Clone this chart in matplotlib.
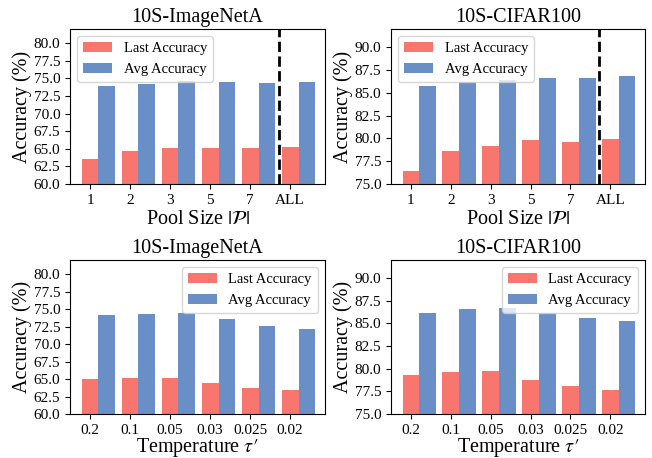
import matplotlib
matplotlib.use("Agg")
import matplotlib.pyplot as plt
import numpy as np
from matplotlib.ticker import MultipleLocator, FormatStrFormatter

plt.rcParams['font.family'] = ['Liberation Serif', 'DejaVu Serif']
plt.rcParams['mathtext.fontset'] = 'stix'

pool_labels = ['1', '2', '3', '5', '7', 'ALL']
temp_labels = ['0.2', '0.1', '0.05', '0.03', '0.025', '0.02']

inA_pool_last = [63.5, 64.7, 65.1, 65.1, 65.1, 65.3]
inA_pool_avg = [73.9, 74.2, 74.6, 74.5, 74.4, 74.5]
cif_pool_last = [76.4, 78.6, 79.2, 79.8, 79.6, 79.9]
cif_pool_avg = [85.8, 86.2, 86.4, 86.6, 86.6, 86.8]

inA_temp_last = [65.0, 65.2, 65.2, 64.45, 63.75, 63.45]
inA_temp_avg = [74.1, 74.3, 74.4, 73.55, 72.55, 72.1]
cif_temp_last = [79.3, 79.6, 79.8, 78.8, 78.05, 77.6]
cif_temp_avg = [86.2, 86.6, 86.7, 86.1, 85.6, 85.25]

RED = '#F8766D'
BLUE = '#6A8FC7'
W = 0.42

fig = plt.figure(figsize=(6.52, 4.58), dpi=100)
W_, H_ = 652, 458
def pos(x0, x1, y0, y1):
    return [x0 / W_, 1 - y1 / H_, (x1 - x0) / W_, (y1 - y0) / H_]

axes_spec = [
    (pos(70, 325, 29, 184), '10S-ImageNetA', pool_labels, inA_pool_last, inA_pool_avg, (60, 82), r'Pool Size $|\mathcal{P}|$', 'upper left', True, -0.168),
    (pos(391, 645, 29, 184), '10S-CIFAR100', pool_labels, cif_pool_last, cif_pool_avg, (75, 92), r'Pool Size $|\mathcal{P}|$', 'upper left', True, -0.168),
    (pos(70, 325, 260, 414), '10S-ImageNetA', temp_labels, inA_temp_last, inA_temp_avg, (60, 82), r"Temperature $\tau\prime$", 'upper right', False, -0.143),
    (pos(391, 645, 260, 414), '10S-CIFAR100', temp_labels, cif_temp_last, cif_temp_avg, (75, 92), r"Temperature $\tau\prime$", 'upper right', False, -0.143),
]

for rect, title, labels, last, avg, ylim, xlabel, loc, dashed, ly in axes_spec:
    ax = fig.add_axes(rect)
    x = np.arange(len(labels))
    ax.bar(x, last, width=W, color=RED, label='Last Accuracy')
    ax.bar(x + W, avg, width=W, color=BLUE, label='Avg Accuracy')
    if dashed:
        ax.axvline(4.71, color='black', linestyle='--', linewidth=2)
    ax.set_xticks(x)
    ax.set_xticklabels(labels, fontsize=11)
    ax.set_xlim(-0.5, 5.87)
    ax.set_ylim(*ylim)
    ax.yaxis.set_major_locator(MultipleLocator(2.5))
    ax.yaxis.set_major_formatter(FormatStrFormatter('%.1f'))
    ax.tick_params(axis='y', labelsize=11)
    ax.set_title(title, fontsize=14.5, pad=5)
    ax.set_ylabel('Accuracy (%)', fontsize=14.5)
    ax.set_xlabel(xlabel, fontsize=14.5)
    ax.yaxis.set_label_coords(-0.148, 0.5)
    ax.xaxis.set_label_coords(0.5, ly)
    ax.xaxis.label.set_verticalalignment('top')
    ax.legend(loc=loc, fontsize=10.5)

fig.savefig('out.png', dpi=100)
